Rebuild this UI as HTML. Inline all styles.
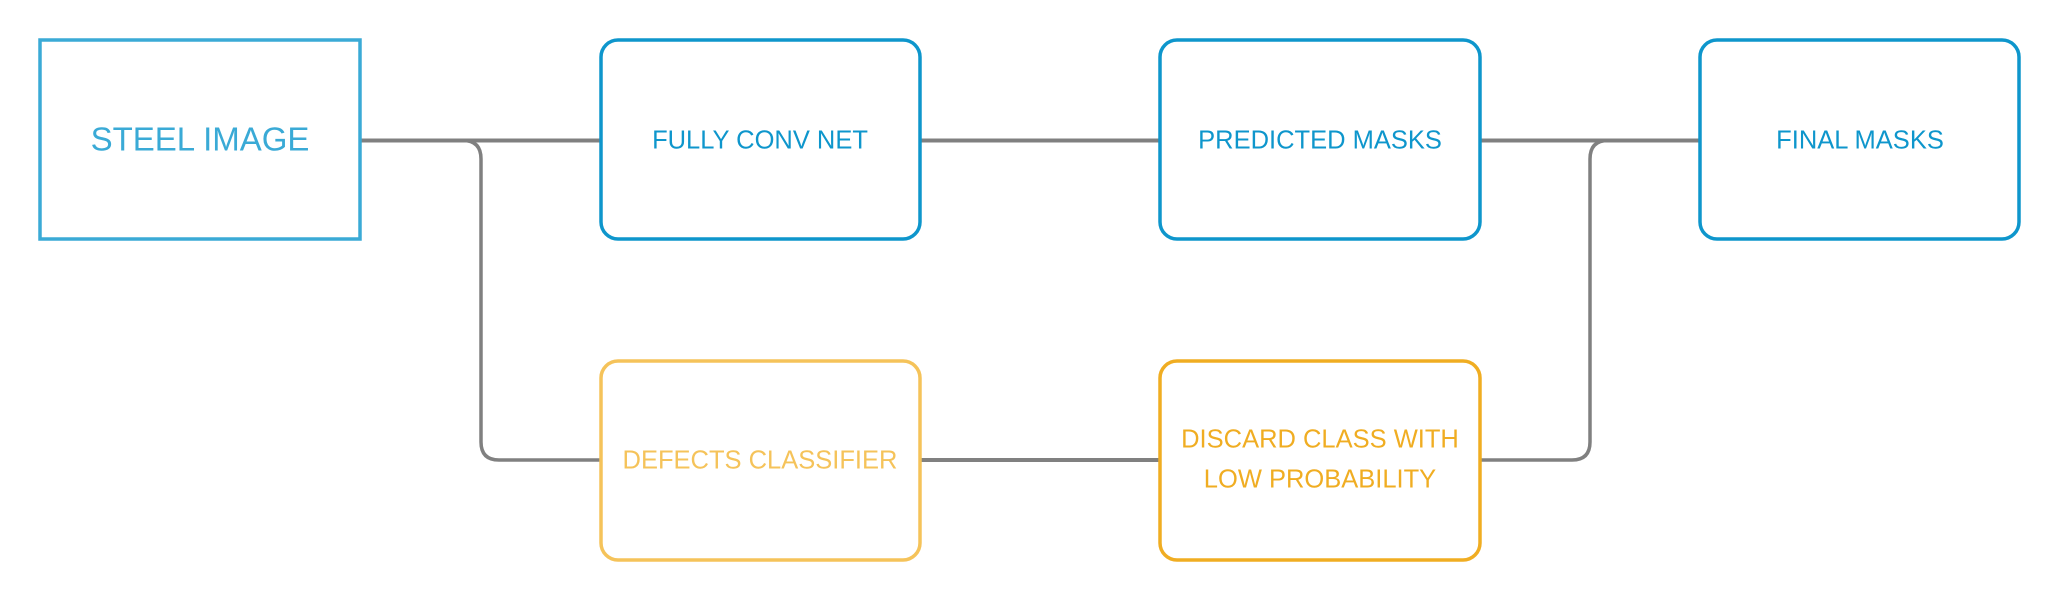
<!DOCTYPE html>
<html><head><meta charset="utf-8"><style>
body{margin:0;background:#fff;width:2060px;height:600px;overflow:hidden}
svg text{font-family:"Liberation Sans",sans-serif;text-anchor:middle;dominant-baseline:middle}
</style></head><body>
<svg width="2060" height="600" viewBox="0 0 2060 600">
<g fill="none" stroke="#808080">
<line x1="360" y1="140.5" x2="600" y2="140.5" stroke-width="4"/>
<line x1="920" y1="140.5" x2="1160" y2="140.5" stroke-width="4"/>
<line x1="1481" y1="140.5" x2="1700" y2="140.5" stroke-width="4"/>
<line x1="920" y1="460" x2="1160" y2="460" stroke-width="4"/>
<path d="M463 140.5 Q481 140.5 481 159 L481 442 Q481 460 499 460 L600 460" stroke-width="3.5"/>
<path d="M1481 460 L1572 460 Q1590 460 1590 442 L1590 159 Q1590 140.5 1608 140.5" stroke-width="3.5"/>
</g>
<rect x="40" y="40" width="320" height="199" fill="#fff" stroke="#3aaad6" stroke-width="3.5"/>
<rect x="601" y="40" width="319" height="199" rx="17" fill="#fff" stroke="#0e96cc" stroke-width="3.5"/>
<rect x="1160" y="40" width="320" height="199" rx="17" fill="#fff" stroke="#0e96cc" stroke-width="3.5"/>
<rect x="1700" y="40" width="319" height="199" rx="17" fill="#fff" stroke="#0e96cc" stroke-width="3.5"/>
<rect x="601" y="361" width="319" height="199" rx="17" fill="#fff" stroke="#f5c35a" stroke-width="3.5"/>
<rect x="1160" y="361" width="320" height="199" rx="17" fill="#fff" stroke="#f0ad22" stroke-width="3.5"/>
<text x="200" y="142" font-size="33" fill="#3aaad6">STEEL IMAGE</text>
<text x="760" y="142" font-size="25.5" fill="#0e96cc">FULLY CONV NET</text>
<text x="1320" y="142" font-size="25.5" fill="#0e96cc">PREDICTED MASKS</text>
<text x="1860" y="142" font-size="25.5" fill="#0e96cc">FINAL MASKS</text>
<text x="760" y="462" font-size="25.5" fill="#f5c35a">DEFECTS CLASSIFIER</text>
<text x="1320" y="441" font-size="25.5" fill="#f0ad22">DISCARD CLASS WITH</text>
<text x="1320" y="481" font-size="25.5" fill="#f0ad22">LOW PROBABILITY</text>
</svg>
</body></html>
